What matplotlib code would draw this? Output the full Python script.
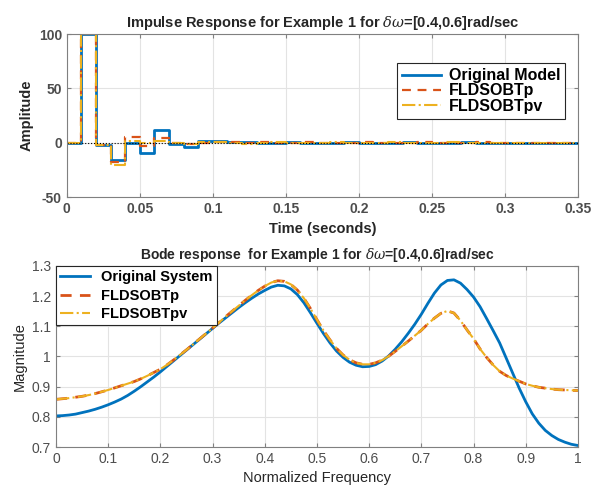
import numpy as np
import matplotlib
matplotlib.use("Agg")
import matplotlib.pyplot as plt

plt.rcParams['font.family'] = ['Liberation Sans', 'DejaVu Sans']
plt.rcParams['mathtext.fontset'] = 'dejavuserif'
plt.rcParams['axes.unicode_minus'] = False

BLUE = "#0072BD"
RED = "#D95319"
YELLOW = "#EDB120"
GRAY = "#4d4d4d"

# impulse response samples, Ts = 0.01 s
t_imp = [round(0.01 * k, 2) for k in range(36)]
imp_orig = [0, 100, -2, -16, 0, -9, 12, -1, -4, 2,
            1.5, 1, 0.5, 0, -0.5, 0.5, 0, -0.5, 0, 0.5,
            0, -0.5, 0, 0.3, 0, -0.3, 0, 0.3, 0, -0.2,
            0, 0.2, 0, -0.2, 0, 0]
imp_p = [0, 100, -2, -18, 5, -2.5, 4, 0, -1, 0,
         1, 0.5, -0.5, 0.5, 0, -0.5, 0.5, 0, -0.5, 0,
         0.5, 0, -0.5, 0, 0.3, 0, -0.3, 0, 0.3, 0,
         -0.2, 0, 0.2, 0, -0.2, 0]
imp_pv = [0, 100, -2, -20, 2, 0, 2, 0, -1.5, 0.5,
          0.5, 0, -1, 0, 0.5, 0, -0.5, 0, 0.5, 0,
          -0.5, 0, 0.5, 0, -0.3, 0, 0.3, 0, -0.3, 0,
          0.2, 0, -0.2, 0, 0.2, 0]

# bode magnitude vs normalized frequency (read every 0.0125)
freq = [round(0.0125 * k, 4) for k in range(81)]
mag_orig = [0.803, 0.804, 0.806, 0.809, 0.814, 0.819, 0.825, 0.832, 0.840, 0.849,
            0.859, 0.871, 0.885, 0.900, 0.916, 0.932, 0.949, 0.967, 0.985, 1.003,
            1.021, 1.039, 1.057, 1.075, 1.093, 1.111, 1.128, 1.145, 1.162, 1.178,
            1.193, 1.207, 1.219, 1.230, 1.236, 1.234, 1.224, 1.205, 1.178, 1.145,
            1.110, 1.076, 1.045, 1.018, 0.997, 0.981, 0.971, 0.966, 0.967, 0.973,
            0.985, 1.002, 1.024, 1.049, 1.077, 1.107, 1.140, 1.176, 1.210, 1.237,
            1.252, 1.254, 1.243, 1.222, 1.197, 1.165, 1.126, 1.086, 1.045, 0.995,
            0.945, 0.895, 0.850, 0.810, 0.779, 0.755, 0.738, 0.725, 0.716, 0.709,
            0.705]
mag_p = [0.858, 0.860, 0.862, 0.865, 0.868, 0.872, 0.877, 0.883, 0.889, 0.896,
         0.903, 0.910, 0.917, 0.926, 0.936, 0.947, 0.958, 0.972, 0.988, 1.005,
         1.022, 1.040, 1.058, 1.076, 1.094, 1.113, 1.132, 1.150, 1.168, 1.186,
         1.203, 1.219, 1.233, 1.245, 1.251, 1.249, 1.239, 1.220, 1.193, 1.159,
         1.122, 1.086, 1.055, 1.027, 1.005, 0.989, 0.979, 0.974, 0.974, 0.979,
         0.988, 1.001, 1.017, 1.034, 1.051, 1.069, 1.087, 1.108, 1.127, 1.143,
         1.151, 1.144, 1.119, 1.088, 1.059, 1.025, 0.997, 0.972, 0.951, 0.937,
         0.927, 0.918, 0.909, 0.903, 0.898, 0.895, 0.892, 0.890, 0.889, 0.888,
         0.887]
mag_pv = [0.858, 0.860, 0.862, 0.865, 0.868, 0.872, 0.877, 0.883, 0.889, 0.896,
          0.903, 0.910, 0.917, 0.926, 0.936, 0.947, 0.958, 0.972, 0.988, 1.005,
          1.022, 1.040, 1.058, 1.076, 1.094, 1.113, 1.132, 1.150, 1.168, 1.186,
          1.203, 1.219, 1.233, 1.245, 1.251, 1.249, 1.239, 1.220, 1.193, 1.159,
          1.122, 1.086, 1.055, 1.027, 1.005, 0.989, 0.979, 0.974, 0.974, 0.979,
          0.988, 1.001, 1.017, 1.034, 1.051, 1.069, 1.087, 1.108, 1.127, 1.143,
          1.151, 1.144, 1.119, 1.088, 1.059, 1.025, 0.997, 0.972, 0.951, 0.937,
          0.927, 0.918, 0.909, 0.903, 0.898, 0.895, 0.892, 0.890, 0.889, 0.888,
          0.887]


def matlab_style(ax, bold=False):
    ax.grid(True, color="#e3e3e3", linewidth=0.8)
    ax.set_axisbelow(True)
    for s in ax.spines.values():
        s.set_color("#808080")
        s.set_linewidth(0.8)
    ax.tick_params(direction="in", length=3, colors="#808080", labelcolor=GRAY,
                   labelsize=10, top=True, right=True)
    if bold:
        for lab in ax.get_xticklabels() + ax.get_yticklabels():
            lab.set_fontweight("bold")


fig = plt.figure(figsize=(6.02, 4.88), dpi=100)

# impulse response
ax1 = fig.add_axes([0.111, 0.596, 0.849, 0.334])
ax1.step(t_imp, imp_orig, where="post", color=BLUE, lw=2.0, label="Original Model")
ax1.step(t_imp, imp_p, where="post", color=RED, lw=1.6, ls=(0, (4, 3)), label="FLDSOBTp")
ax1.step(t_imp, imp_pv, where="post", color=YELLOW, lw=1.5, ls="-.", label="FLDSOBTpv")
ax1.axhline(0, color="k", lw=0.8, ls=":")
ax1.set_xlim(0, 0.35)
ax1.set_ylim(-50, 100)
ax1.set_xticks(np.arange(0, 0.351, 0.05))
ax1.set_xticklabels(["0", "0.05", "0.1", "0.15", "0.2", "0.25", "0.3", "0.35"])
ax1.set_yticks([-50, 0, 50, 100])
matlab_style(ax1, bold=True)
ax1.set_xlabel("Time (seconds)", fontweight="bold", fontsize=10.5, color="#262626")
ax1.set_ylabel("Amplitude", fontweight="bold", fontsize=10.5, color="#262626")
ax1.set_title(r"Impulse Response for Example 1 for $\delta\omega$=[0.4,0.6]rad/sec",
              fontweight="bold", fontsize=10.5, color="#262626", pad=5)
leg1 = ax1.legend(loc="upper right", bbox_to_anchor=(0.99, 0.87), fancybox=False,
                  prop={"weight": "bold", "size": 11.5}, handlelength=2.4,
                  handletextpad=0.5, borderpad=0.3, labelspacing=0.02, framealpha=1)
leg1.get_frame().set_edgecolor("#262626")
leg1.get_frame().set_linewidth(0.8)

# bode magnitude
ax2 = fig.add_axes([0.093, 0.084, 0.867, 0.371])
ax2.plot(freq, mag_orig, color=BLUE, lw=2.0, label="Original System")
ax2.plot(freq, mag_p, color=RED, lw=2.0, ls=(0, (4, 3)), label="FLDSOBTp")
ax2.plot(freq, mag_pv, color=YELLOW, lw=1.5, ls="-.", label="FLDSOBTpv")
ax2.set_xlim(0, 1)
ax2.set_ylim(0.7, 1.3)
ax2.set_xticks(np.arange(0, 1.01, 0.1))
ax2.set_xticklabels(["0", "0.1", "0.2", "0.3", "0.4", "0.5", "0.6", "0.7", "0.8", "0.9", "1"])
ax2.set_yticks(np.arange(0.7, 1.31, 0.1))
ax2.set_yticklabels(["0.7", "0.8", "0.9", "1", "1.1", "1.2", "1.3"])
matlab_style(ax2)
ax2.set_xlabel("Normalized Frequency", fontsize=10.5, color="#262626")
ax2.set_ylabel("Magnitude", fontsize=10.5, color="#262626")
ax2.set_title(r"Bode response  for Example 1 for $\delta\omega$=[0.4,0.6]rad/sec",
              fontweight="bold", fontsize=10, color="#262626", pad=5)
leg2 = ax2.legend(loc="upper left", bbox_to_anchor=(0.0, 1.0), fancybox=False,
                  prop={"weight": "bold", "size": 10.5}, handlelength=2.0,
                  borderpad=0.3, labelspacing=0.3, framealpha=1, borderaxespad=0)
leg2.get_frame().set_edgecolor("#262626")
leg2.get_frame().set_linewidth(0.8)

fig.savefig("out.png", dpi=100)
